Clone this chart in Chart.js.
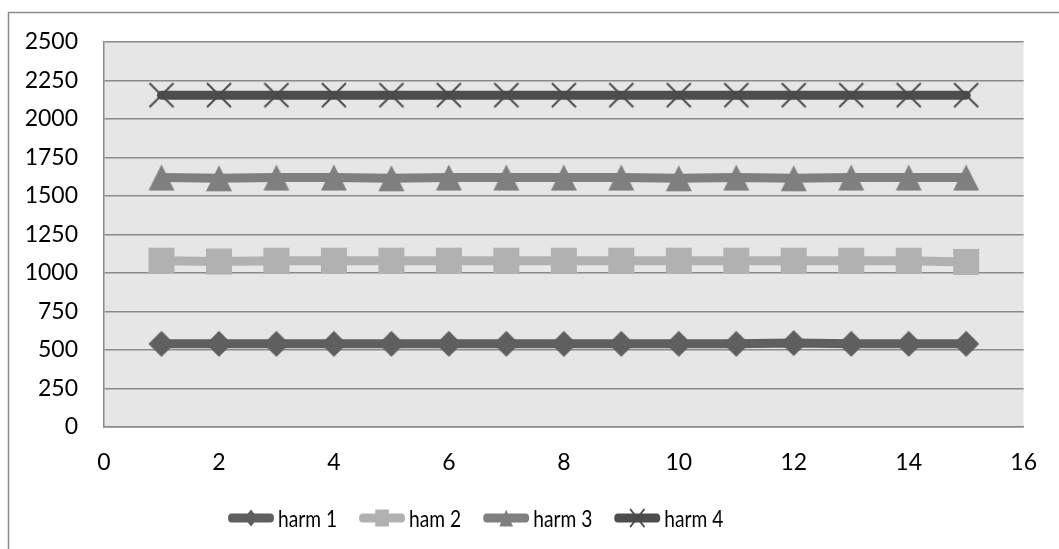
<!DOCTYPE html>
<html>
<head>
<meta charset="utf-8">
<script src="https://cdn.jsdelivr.net/npm/chart.js@4"></script>
<style>
  html, body { margin: 0; padding: 0; background: #ffffff; }
  canvas { display: block; }
</style>
</head>
<body>
<canvas id="c" width="1059" height="549" style="width:1059px;height:549px"></canvas>
<script>
// ---- data ----
const xValues = [1, 2, 3, 4, 5, 6, 7, 8, 9, 10, 11, 12, 13, 14, 15];
const harm1 = [540, 540, 540, 540, 540, 540, 540, 540, 540, 540, 540, 545, 540, 540, 540];
const harm2 = [1080, 1075, 1080, 1080, 1080, 1080, 1080, 1080, 1080, 1080, 1080, 1080, 1080, 1080, 1072];
const harm3 = [1620, 1615, 1620, 1620, 1615, 1620, 1620, 1620, 1620, 1615, 1620, 1615, 1620, 1620, 1620];
const harm4 = [2155, 2155, 2155, 2155, 2155, 2155, 2155, 2155, 2155, 2155, 2155, 2155, 2155, 2155, 2155];
const seriesLabels = ['harm 1', 'ham 2', 'harm 3', 'harm 4'];
const xMin = 0, xMax = 16, xStep = 2;
const yMin = 0, yMax = 2500, yStep = 250;

// ---- styling ----
const FONT = 'Lato';
const seriesColors = ['#5f5f5f', '#b1b1b1', '#7f7f7f', '#4d4d4d'];
const markerShapes = ['diamond', 'square', 'triangle', 'cross'];

function makeMarker(shape, color, w, h) {
  const pad = 2;
  const c = document.createElement('canvas');
  c.width = w + pad * 2; c.height = h + pad * 2;
  const g = c.getContext('2d');
  drawShape(g, shape, color, c.width / 2, c.height / 2, w, h);
  return c;
}
function drawShape(g, shape, color, cx, cy, w, h) {
  g.save();
  g.fillStyle = color; g.strokeStyle = color;
  const l = cx - w / 2, r = cx + w / 2, t = cy - h / 2, b = cy + h / 2;
  g.beginPath();
  if (shape === 'diamond') {
    g.moveTo(cx, t); g.lineTo(r, cy); g.lineTo(cx, b); g.lineTo(l, cy); g.closePath(); g.fill();
  } else if (shape === 'square') {
    g.rect(l, t, w, h); g.fill();
  } else if (shape === 'triangle') {
    g.moveTo(cx, t); g.lineTo(r, b); g.lineTo(l, b); g.closePath(); g.fill();
  } else if (shape === 'cross') {
    g.lineWidth = 2;
    g.moveTo(l, t); g.lineTo(r, b); g.moveTo(r, t); g.lineTo(l, b); g.stroke();
  }
  g.restore();
}

const seriesValues = [harm1, harm2, harm3, harm4];
const datasets = seriesValues.map((vals, i) => ({
  label: seriesLabels[i],
  data: xValues.map((x, k) => ({ x: x, y: vals[k] })),
  borderColor: seriesColors[i],
  backgroundColor: seriesColors[i],
  borderWidth: 9,
  borderCapStyle: 'round',
  borderJoinStyle: 'round',
  tension: 0,
  pointStyle: makeMarker(markerShapes[i], i === 3 ? '#4a4a4a' : seriesColors[i], i === 3 ? 24 : 26, i === 3 ? 24 : 26),
  pointRadius: 13,
  pointHoverRadius: 13,
  _shape: markerShapes[i]
}));

const frame = {
  id: 'frame',
  beforeDraw(chart) {
    const { ctx, chartArea: a } = chart;
    ctx.save();
    ctx.fillStyle = '#ffffff';
    ctx.fillRect(0, 0, chart.width, chart.height);
    ctx.fillStyle = '#e6e6e6';
    ctx.fillRect(a.left, a.top, a.right - a.left, a.bottom - a.top);
    ctx.strokeStyle = '#8c8c8c';
    ctx.lineWidth = 1.5;
    ctx.beginPath();
    ctx.moveTo(8.5, chart.height);
    ctx.lineTo(8.5, 12.5);
    ctx.lineTo(chart.width, 12.5);
    ctx.stroke();
    ctx.restore();
  },
  afterDraw(chart) {
    // legend: line + marker + label, horizontally condensed like the reference
    const { ctx } = chart;
    const sx = 0.8;
    const y = 518;
    const lineLen = 46;
    let x = 228;
    ctx.save();
    ctx.font = '24px ' + FONT;
    ctx.textBaseline = 'middle';
    chart.data.datasets.forEach((ds, i) => {
      ctx.save();
      ctx.translate(x, y);
      ctx.scale(sx, 1);
      const L = lineLen / sx;
      ctx.strokeStyle = ds.borderColor;
      ctx.lineWidth = 9;
      ctx.lineCap = 'round';
      ctx.beginPath();
      ctx.moveTo(4.5, 0);
      ctx.lineTo(L - 4.5, 0);
      ctx.stroke();
      drawShape(ctx, ds._shape, i === 3 ? '#4a4a4a' : ds.borderColor, L / 2, 0, 17, 17);
      ctx.fillStyle = '#000000';
      ctx.textAlign = 'left';
      ctx.fillText(ds.label, L + 5, 1);
      const tw = ctx.measureText(ds.label).width;
      ctx.restore();
      x += lineLen + (5 + tw) * sx + 22;
    });
    ctx.restore();
  }
};

new Chart(document.getElementById('c'), {
  type: 'line',
  data: { datasets: datasets },
  options: {
    responsive: false,
    devicePixelRatio: 1,
    animation: false,
    layout: { padding: { top: 42, right: 29, left: 0, bottom: 0 } },
    plugins: { legend: { display: false }, tooltip: { enabled: false } },
    scales: {
      x: {
        type: 'linear',
        min: xMin, max: xMax,
        ticks: { stepSize: xStep, color: '#000000', font: { family: FONT, size: 23 }, padding: 22, maxRotation: 0,
                 callback: (v) => String(v) },
        grid: { display: false, drawTicks: false },
        border: { display: true, color: '#8a8a8a', width: 1.5 },
        afterFit(s) { s.height = 122; }
      },
      y: {
        min: yMin, max: yMax,
        ticks: { stepSize: yStep, color: '#000000', font: { family: FONT, size: 23 }, padding: 26,
                 callback: (v) => String(v) },
        grid: { display: true, drawTicks: false, color: '#8a8a8a', lineWidth: 1.5 },
        border: { display: true, color: '#8a8a8a', width: 1.5 },
        afterFit(s) { s.width = 104; }
      }
    }
  },
  plugins: [frame]
});
</script>
</body>
</html>
